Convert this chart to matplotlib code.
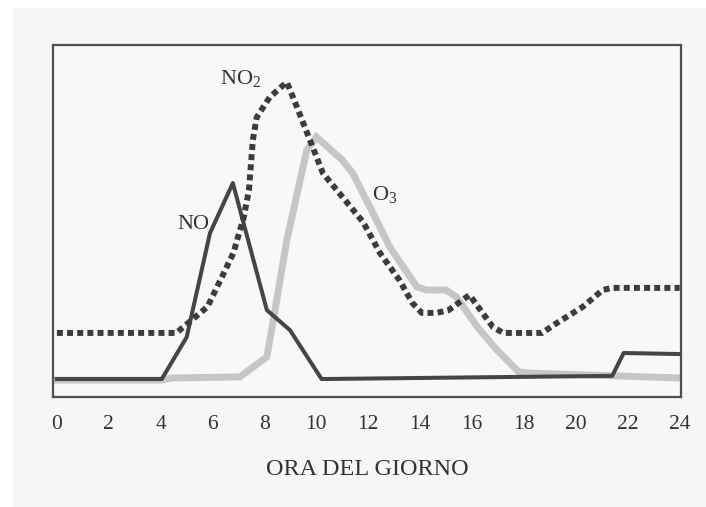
import matplotlib
matplotlib.use("Agg")
import matplotlib.pyplot as plt

# --- data (hour of day, relative concentration) ---
no_hours = [0, 4.04, 5.0, 5.9, 6.78, 8.09, 8.98, 10.2, 21.4, 21.84, 24]
no_vals = [5.1, 5.1, 17.0, 46.6, 60.8, 24.7, 19.0, 5.1, 6.0, 12.5, 12.2]

no2_hours = [0, 4.6, 5.8, 6.3, 6.8, 7.2, 7.4, 7.55, 7.7, 8.2, 8.86, 9.25, 9.75,
             10.25, 11.8, 12.45, 13.2, 13.7, 14.06, 14.64, 15.1, 15.9, 16.4,
             16.8, 17.2, 18.7, 19.26, 20.26, 21.03, 21.4, 24]
no2_vals = [18.2, 18.2, 25.6, 33.2, 40.9, 51.1, 58.8, 73.0, 79.5, 85.2, 89.5,
            82.4, 73.0, 63.6, 49.7, 40.9, 33.2, 26.7, 23.9, 23.9, 24.7, 29.0,
            23.9, 19.9, 18.2, 18.2, 21.0, 25.6, 30.4, 31.0, 31.0]

o3_hours = [0, 3.97, 4.47, 7.05, 8.09, 8.32, 8.86, 9.63, 10.0, 11.0, 11.4,
            12.06, 12.83, 13.87, 14.25, 15.0, 15.4, 16.2, 16.95, 17.8, 18.2, 24]
o3_vals = [4.8, 4.8, 5.4, 5.7, 11.4, 21.0, 44.6, 70.2, 73.9, 67.3, 63.6,
           54.0, 42.6, 31.3, 30.4, 30.4, 28.4, 19.9, 13.4, 7.1, 6.8, 5.4]

xticks = list(range(0, 25, 2))
xlabel = "ORA DEL GIORNO"
labels = [("NO$_2$", 6.28, 88.9), ("NO", 4.66, 47.7), ("O$_3$", 12.13, 56.0)]

plt.rcParams['font.family'] = ['Liberation Serif', 'DejaVu Serif']
plt.rcParams['mathtext.fontset'] = 'custom'
plt.rcParams['mathtext.rm'] = 'Liberation Serif'
plt.rcParams['mathtext.it'] = 'Liberation Serif'

fig = plt.figure(figsize=(7.06, 5.07), dpi=100)
fig.patch.set_facecolor('white')
# scanned page background
bg = fig.add_axes([0.018, 0.0, 0.982, 0.984])
bg.set_facecolor('#f6f6f6')
bg.set_xticks([]); bg.set_yticks([])
for s in bg.spines.values():
    s.set_visible(False)

ax = fig.add_axes([0.0751, 0.217, 0.8895, 0.694])
ax.set_facecolor('#f8f8f8')

ax.plot(o3_hours, o3_vals, color='#c6c6c6', lw=5.0, solid_joinstyle='miter', zorder=2)
ax.plot(no_hours, no_vals, color='#454545', lw=2.9, zorder=3)
ax.plot(no2_hours, no2_vals, color='#3c3c3c', lw=4.3, linestyle=(0, (1.0, 0.7)),
        dash_capstyle='butt', zorder=4)

for txt, x, y in labels:
    ax.text(x, y, txt, fontsize=16, color='#333333', ha='left', va='baseline', zorder=5)

ax.set_xlim(-0.15, 24.05)
ax.set_ylim(0, 100)
ax.set_xticks(xticks)
ax.set_xticklabels([str(t) for t in xticks], fontsize=15.5, color='#333333')
ax.tick_params(axis='x', length=0, pad=13)
ax.set_yticks([])
ax.set_xlabel(xlabel, fontsize=17.5, color='#333333', labelpad=18)
for s in ax.spines.values():
    s.set_color('#505050')
    s.set_linewidth(1.6)

fig.savefig('out.png', dpi=100)
